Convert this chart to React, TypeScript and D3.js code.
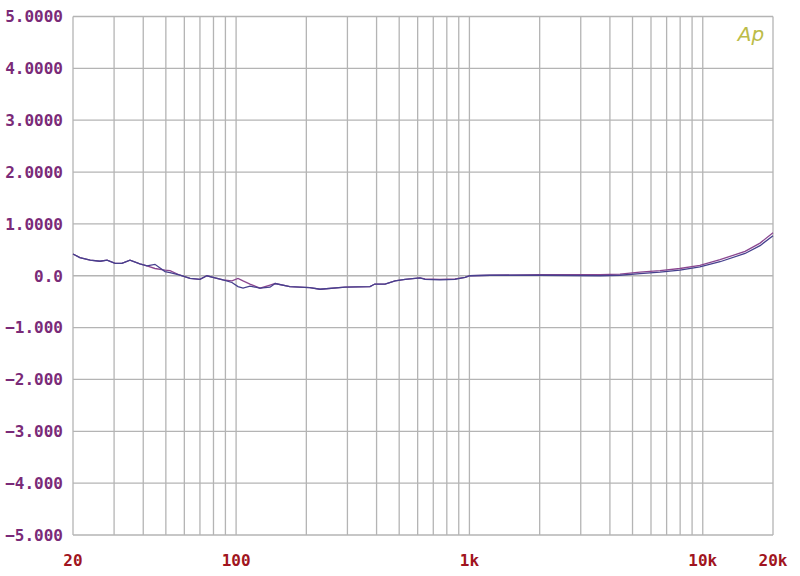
import React from "react";
import * as d3 from "d3";

const freqs = [20, 21.4, 23.7, 26.1, 28.0, 30.3, 32.4, 35.1, 38.7, 41.5, 44.9, 49.6, 52.1, 57.5, 63.5, 70, 75, 79.6, 87.9, 96, 101.9, 107.1, 114.7, 126.6, 139.8, 147, 170, 207, 229, 293, 375, 393, 435, 480, 530, 614, 645, 748, 867, 958, 1005, 1226, 2006, 3630, 4420, 5380, 6560, 7980, 9720, 11860, 15180, 17600, 20000];
const seriesBlue = [0.42, 0.35, 0.30, 0.28, 0.30, 0.24, 0.24, 0.30, 0.23, 0.19, 0.22, 0.08, 0.06, 0.01, -0.05, -0.07, 0.0, -0.03, -0.08, -0.13, -0.21, -0.24, -0.20, -0.24, -0.22, -0.15, -0.21, -0.23, -0.26, -0.22, -0.21, -0.16, -0.16, -0.10, -0.07, -0.04, -0.07, -0.08, -0.07, -0.03, 0.0, 0.01, 0.01, 0.0, 0.01, 0.04, 0.07, 0.11, 0.17, 0.27, 0.43, 0.58, 0.77];
const seriesPurple = [0.42, 0.35, 0.30, 0.28, 0.30, 0.24, 0.24, 0.30, 0.23, 0.19, 0.14, 0.11, 0.10, 0.01, -0.05, -0.07, 0.0, -0.03, -0.08, -0.10, -0.05, -0.10, -0.16, -0.24, -0.18, -0.15, -0.21, -0.23, -0.26, -0.22, -0.21, -0.16, -0.16, -0.10, -0.07, -0.04, -0.06, -0.07, -0.06, -0.03, 0.0, 0.01, 0.02, 0.02, 0.03, 0.07, 0.10, 0.14, 0.20, 0.31, 0.47, 0.63, 0.83];

const yTicks = [5, 4, 3, 2, 1, 0, -1, -2, -3, -4, -5];
const yTickLabels = ["5.0000", "4.0000", "3.0000", "2.0000", "1.0000", "0.0", "\u22121.000", "\u22122.000", "\u22123.000", "\u22124.000", "\u22125.000"];
const xTicks = [20, 100, 1000, 10000, 20000];
const xTickLabels = ["20", "100", "1k", "10k", "20k"];
const xGrid = [20, 30, 40, 50, 60, 70, 80, 90, 100, 200, 300, 400, 500, 600, 700, 800, 900, 1000, 2000, 3000, 4000, 5000, 6000, 7000, 8000, 9000, 10000, 20000];

export default function App() {
  const W = 800, H = 576;
  const left = 73, right = 773, top = 16.5, bottom = 535;
  const x = d3.scaleLog().domain([20, 20000]).range([left, right]);
  const y = d3.scaleLinear().domain([-5, 5]).range([bottom, top]);
  const line = d3.line<number>().x((_, i) => x(freqs[i])).y((d) => y(d));
  const grid = "#b4b4b4";
  return (
    <svg width={W} height={H} style={{ position: "absolute", left: 0, top: 0, background: "#fff" }}>
      {xGrid.map((f) => (
        <line key={"gx" + f} x1={x(f)} x2={x(f)} y1={top} y2={bottom} stroke={grid} strokeWidth={1.3} />
      ))}
      {yTicks.map((v) => (
        <line key={"gy" + v} x1={left} x2={right} y1={y(v)} y2={y(v)} stroke={grid} strokeWidth={1.3} />
      ))}
      <path d={line(seriesPurple) || ""} fill="none" stroke="#8a4690" strokeWidth={1.3} />
      <path d={line(seriesBlue) || ""} fill="none" stroke="#46408e" strokeWidth={1.3} />
      {yTicks.map((v, i) => (
        <text key={"yl" + v} x={63} y={y(v)} dy="0.36em" textAnchor="end" fill="#7a2a78"
          style={{ fontFamily: "'DejaVu Sans Mono', monospace", fontWeight: "bold", fontSize: 16 }}>
          {yTickLabels[i]}
        </text>
      ))}
      {xTicks.map((f, i) => (
        <text key={"xl" + f} x={x(f)} y={560} dy="0.36em" textAnchor="middle" fill="#a01420"
          style={{ fontFamily: "'DejaVu Sans Mono', monospace", fontWeight: "bold", fontSize: 16 }}>
          {xTickLabels[i]}
        </text>
      ))}
      <text x={751} y={41} textAnchor="middle" fill="#bcbc48"
        style={{ fontFamily: "'DejaVu Sans', sans-serif", fontStyle: "italic", fontSize: 20, fontWeight: 300 }}>
        Ap
      </text>
    </svg>
  );
}
